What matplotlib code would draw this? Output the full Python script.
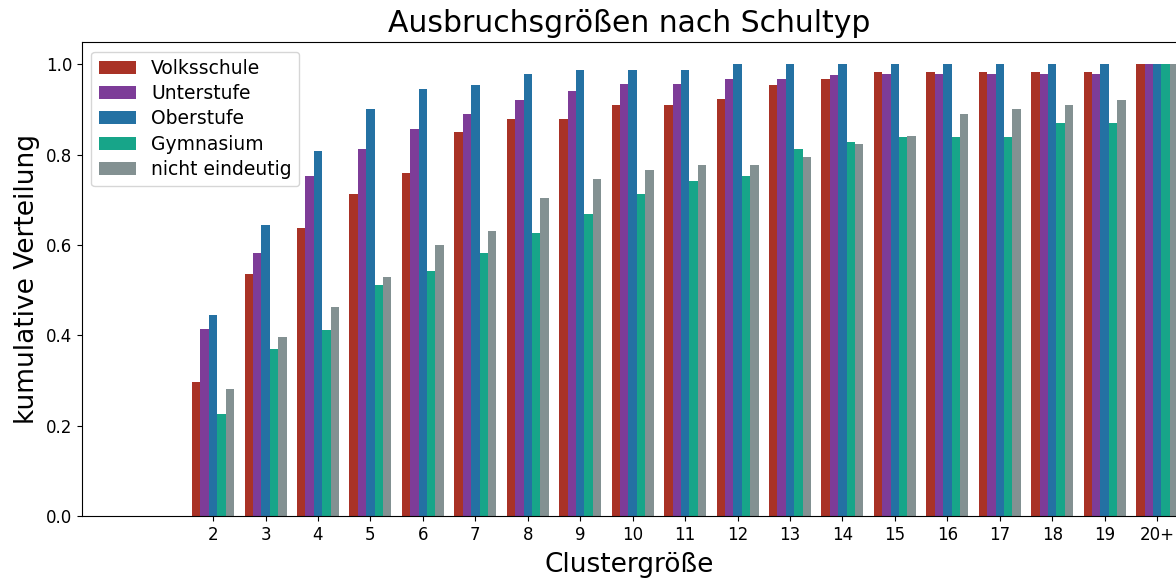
import numpy as np
import matplotlib
matplotlib.use("Agg")
import matplotlib.pyplot as plt

cluster_labels = ['2', '3', '4', '5', '6', '7', '8', '9', '10', '11', '12',
                  '13', '14', '15', '16', '17', '18', '19', '20+']

volksschule = [0.297, 0.535, 0.638, 0.712, 0.760, 0.850, 0.880, 0.880, 0.909, 0.909,
               0.924, 0.954, 0.968, 0.983, 0.983, 0.983, 0.983, 0.983, 1.0]
unterstufe = [0.415, 0.583, 0.753, 0.813, 0.857, 0.891, 0.920, 0.942, 0.957, 0.957,
              0.968, 0.968, 0.976, 0.979, 0.979, 0.979, 0.979, 0.979, 1.0]
oberstufe = [0.445, 0.645, 0.808, 0.901, 0.945, 0.954, 0.979, 0.987, 0.987, 0.987,
             1.0, 1.0, 1.0, 1.0, 1.0, 1.0, 1.0, 1.0, 1.0]
gymnasium = [0.226, 0.369, 0.411, 0.511, 0.542, 0.583, 0.627, 0.668, 0.712, 0.742,
             0.753, 0.813, 0.827, 0.838, 0.838, 0.838, 0.869, 0.869, 1.0]
nicht_eindeutig = [0.282, 0.397, 0.463, 0.529, 0.601, 0.631, 0.705, 0.746, 0.765, 0.776,
                   0.776, 0.794, 0.823, 0.841, 0.891, 0.902, 0.909, 0.920, 1.0]

series = [
    ('Volksschule', volksschule, '#a93226'),
    ('Unterstufe', unterstufe, '#7d3c98'),
    ('Oberstufe', oberstufe, '#2471a3'),
    ('Gymnasium', gymnasium, '#17a589'),
    ('nicht eindeutig', nicht_eindeutig, '#839192'),
]

fig = plt.figure(figsize=(11.76, 5.78), dpi=100)
ax = fig.add_axes([0.0697, 0.1073, 0.9303, 0.8197])

x = np.arange(2, 2 + len(cluster_labels))
w = 0.8 / len(series)
for i, (name, vals, col) in enumerate(series):
    ax.bar(x + (i - 2) * w, vals, width=w, color=col, label=name)

ax.set_xticks(x)
ax.set_xticklabels(cluster_labels, fontsize=12)
ax.tick_params(axis='y', labelsize=12)
ax.set_xlim(-0.5, 20.36)
ax.set_ylim(0, 1.049)
ax.spines['right'].set_visible(False)

ax.set_title('Ausbruchsgrößen nach Schultyp', fontsize=21.5, pad=7)
ax.set_xlabel('Clustergröße', fontsize=19, labelpad=6)
ax.set_ylabel('kumulative Verteilung', fontsize=19, labelpad=4)
ax.legend(loc='upper left', fontsize=13.5, labelspacing=0.33, borderaxespad=0.5)

fig.savefig('out.png', dpi=100)
